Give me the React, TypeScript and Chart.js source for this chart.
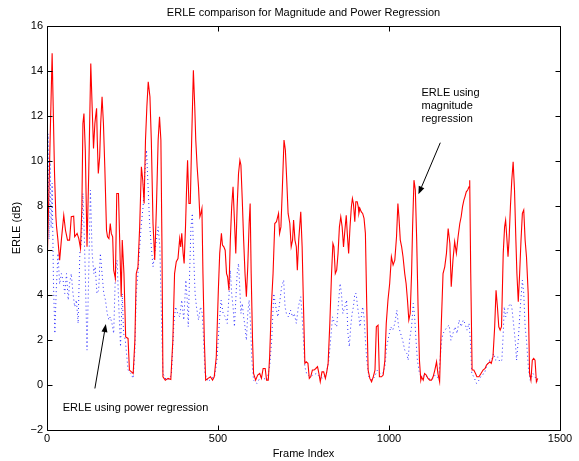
import React, { useEffect, useRef } from "react";
import { Chart, registerables } from "chart.js";

Chart.register(...registerables);

const titleText = "ERLE comparison for Magnitude and Power Regression";
const xLabel = "Frame Index";
const yLabel = "ERLE (dB)";
const xMin = 0;
const xMax = 1500;
const xStep = 500;
const yMin = -2;
const yMax = 16;
const yStep = 2;

// ERLE using magnitude regression (red solid)
const magFrames = [
  1, 15, 22, 26, 28, 32, 37, 42, 49, 54, 60, 66, 71, 78, 81, 88, 93, 98, 102, 105,
  108, 112, 117, 122, 128, 132, 136, 140, 142, 145, 147, 150, 154, 157, 161, 165, 169, 174, 177, 181,
  185, 188, 192, 195, 200, 204, 209, 214, 217, 220, 225, 230, 237, 241, 247, 252, 257, 261, 266, 271,
  276, 280, 284, 288, 292, 296, 301, 305, 310, 315, 320, 325, 329, 333, 336, 339, 346, 354, 362, 368,
  373, 378, 383, 388, 391, 394, 398, 401, 405, 408, 411, 415, 419, 423, 428, 432, 435, 439, 443, 447,
  450, 453, 456, 460, 464, 471, 478, 484, 489, 495, 501, 505, 510, 513, 517, 521, 525, 528, 532, 536,
  540, 544, 548, 552, 556, 560, 564, 567, 571, 575, 579, 583, 587, 591, 594, 597, 601, 604, 610, 616,
  622, 627, 632, 638, 642, 647, 651, 656, 661, 666, 671, 677, 680, 684, 688, 693, 697, 701, 705, 710,
  714, 718, 721, 725, 729, 732, 736, 742, 746, 750, 754, 758, 763, 767, 771, 776, 781, 786, 791, 795,
  799, 804, 809, 814, 818, 822, 827, 832, 836, 839, 843, 847, 851, 855, 859, 863, 867, 871, 875, 878,
  882, 886, 890, 893, 896, 900, 903, 907, 910, 912, 915, 919, 923, 927, 931, 935, 939, 944, 949, 954,
  959, 963, 968, 972, 978, 983, 988, 992, 997, 1002, 1007, 1012, 1017, 1022, 1026, 1029, 1033, 1037, 1041, 1046,
  1050, 1054, 1058, 1062, 1066, 1069, 1073, 1077, 1081, 1085, 1089, 1093, 1095, 1100, 1104, 1109, 1114, 1119, 1124, 1129,
  1134, 1139, 1143, 1148, 1153, 1158, 1163, 1168, 1173, 1178, 1182, 1187, 1192, 1197, 1202, 1207, 1211, 1215, 1219, 1222,
  1226, 1230, 1234, 1236, 1239, 1243, 1248, 1253, 1257, 1263, 1269, 1275, 1281, 1285, 1290, 1295, 1299, 1304, 1309, 1313,
  1317, 1321, 1325, 1329, 1334, 1338, 1341, 1345, 1348, 1351, 1355, 1359, 1363, 1367, 1371, 1374, 1378, 1382, 1386, 1390,
  1394, 1398, 1402, 1407, 1411, 1415, 1419, 1423, 1427, 1431, 1435,
];
const magValues = [
  5.64, 14.78, 9.43, 7.5, 7.05, 6.46, 5.57, 6.46, 7.57, 6.9, 6.46, 6.46, 7.5, 7.53, 6.61, 6.76, 6.53, 6.09, 7.95, 11.66,
  12.1, 10.47, 6.16, 9.43, 14.33, 12.4, 10.54, 11.66, 11.95, 12.33, 10.92, 9.43, 10.17, 11.66, 12.85, 11.66, 9.73, 6.9, 6.61, 6.53,
  7.2, 6.76, 6.61, 5.12, 4.75, 8.54, 8.54, 5.57, 3.94, 6.46, 4.97, 2.15, 2.08, 0.67, 0.59, 0.52, 2.0, 4.97, 5.27, 7.05,
  9.73, 9.13, 8.09, 10.92, 12.4, 13.51, 12.85, 10.92, 7.2, 5.57, 7.95, 10.92, 11.95, 10.92, 6.46, 0.37, 0.22, 0.3, 0.25, 2.0,
  4.97, 5.5, 5.64, 6.53, 6.16, 6.76, 5.87, 5.42, 7.05, 8.69, 10.02, 8.09, 8.09, 10.92, 14.03, 12.4, 10.92, 9.73, 8.84, 7.5,
  7.65, 7.87, 4.97, 2.0, 0.22, 0.3, 0.37, 0.22, 0.37, 1.26, 4.23, 5.87, 6.76, 6.24, 6.16, 6.01, 4.97, 4.83, 4.23, 6.46,
  7.95, 8.84, 7.35, 5.87, 7.95, 9.43, 10.02, 9.8, 8.24, 6.46, 4.97, 3.94, 5.27, 7.2, 8.09, 4.97, 2.0, 0.52, 0.22, 0.45,
  0.52, 0.3, 0.74, 0.74, 0.22, 0.22, 1.26, 3.49, 4.97, 7.2, 7.28, 7.65, 6.76, 7.05, 8.69, 10.92, 10.47, 9.13, 7.65, 7.2,
  6.16, 6.46, 7.35, 6.46, 6.16, 5.12, 6.46, 7.72, 6.16, 3.49, 0.97, 1.04, 0.97, 0.3, 0.37, 0.67, 0.67, 0.74, 0.82, 0.52,
  0.15, 0.59, 0.59, 0.3, 0.59, 0.97, 2.75, 4.97, 6.31, 6.16, 4.97, 5.12, 5.87, 7.05, 7.5, 7.05, 6.16, 6.9, 7.57, 6.76,
  5.87, 7.05, 7.95, 8.32, 8.09, 7.28, 8.17, 8.17, 7.95, 7.65, 7.87, 7.72, 7.65, 7.43, 6.76, 3.49, 0.67, 0.3, 0.15, 0.37,
  0.67, 2.6, 2.67, 0.37, 0.37, 0.45, 1.11, 2.75, 3.79, 4.53, 5.72, 5.35, 5.57, 6.61, 8.09, 7.5, 6.46, 6.16, 5.72, 4.97,
  4.53, 3.79, 2.9, 3.19, 4.97, 7.05, 9.13, 8.69, 6.46, 3.49, 1.11, 0.22, 0.37, 0.22, 0.52, 0.45, 0.3, 0.22, 0.22, 0.37,
  0.67, 1.04, 0.52, 0.15, 2.75, 4.97, 5.27, 5.87, 6.98, 6.31, 4.38, 5.57, 6.39, 5.87, 6.61, 7.2, 7.5, 7.95, 8.24, 8.39,
  8.61, 8.69, 8.84, 9.13, 4.97, 0.67, 0.67, 0.52, 0.37, 0.37, 0.52, 0.67, 0.74, 0.89, 0.97, 1.04, 0.97, 1.26, 2.6, 4.23,
  3.49, 2.6, 2.45, 2.6, 5.87, 7.05, 7.35, 6.46, 5.72, 6.46, 7.95, 9.13, 9.95, 8.69, 6.46, 4.97, 3.71, 4.97, 6.46, 7.65,
  7.8, 6.46, 5.72, 4.08, 0.52, 0.22, 1.11, 1.19, 1.11, 0.15, 0.3,
];

// ERLE using power regression (blue dotted)
const powFrames = [
  0, 3, 6, 9, 12, 15, 19, 23, 27, 32, 37, 42, 47, 52, 57, 62, 66, 71, 76, 81,
  86, 91, 96, 101, 105, 108, 112, 117, 122, 127, 132, 137, 141, 146, 151, 156, 161, 166, 171, 176,
  181, 185, 190, 195, 200, 205, 210, 215, 220, 224, 229, 237, 245, 252, 257, 261, 266, 271, 276, 281,
  286, 291, 296, 300, 305, 310, 315, 320, 325, 330, 335, 339, 349, 359, 364, 371, 376, 382, 388, 394,
  400, 406, 410, 413, 417, 421, 425, 429, 433, 437, 443, 449, 454, 458, 462, 471, 481, 490, 497, 503,
  509, 515, 521, 527, 532, 536, 540, 544, 548, 552, 556, 560, 564, 567, 571, 575, 579, 583, 587, 591,
  595, 599, 604, 614, 624, 634, 643, 651, 657, 663, 669, 675, 680, 686, 692, 696, 700, 706, 712, 718,
  723, 729, 735, 742, 746, 750, 754, 759, 768, 778, 788, 797, 807, 817, 824, 830, 835, 841, 847, 853,
  857, 861, 865, 871, 876, 880, 884, 888, 892, 896, 900, 904, 908, 911, 915, 919, 923, 927, 931, 935,
  941, 950, 958, 966, 974, 982, 988, 993, 999, 1005, 1011, 1017, 1023, 1028, 1034, 1040, 1046, 1052, 1056, 1060,
  1066, 1071, 1075, 1079, 1083, 1089, 1097, 1105, 1115, 1125, 1135, 1145, 1150, 1154, 1158, 1164, 1170, 1176, 1181, 1187,
  1193, 1199, 1205, 1211, 1217, 1222, 1228, 1234, 1238, 1242, 1248, 1256, 1263, 1271, 1279, 1285, 1293, 1300, 1306, 1312,
  1318, 1324, 1330, 1334, 1337, 1341, 1345, 1349, 1355, 1359, 1363, 1369, 1373, 1378, 1384, 1390, 1394, 1398, 1402, 1408,
  1413, 1421, 1427, 1433,
];
const powValues = [
  5.5, 11.2, 6.5, 10.0, 7.0, 9.0, 4.5, 2.3, 4.2, 5.87, 4.5, 4.97, 4.68, 4.08, 4.97, 3.79, 4.53, 4.97, 4.08, 3.49,
  3.79, 2.75, 5.87, 6.46, 8.54, 7.2, 4.97, 1.56, 4.97, 8.69, 5.87, 4.97, 5.27, 4.08, 4.23, 5.87, 4.97, 4.08, 3.79, 3.19,
  2.9, 3.04, 2.75, 2.3, 4.97, 5.57, 3.49, 1.71, 4.08, 2.3, 2.0, 0.67, 0.52, 0.3, 1.56, 4.08, 4.97, 6.16, 7.2, 7.95,
  9.43, 10.47, 8.69, 7.2, 6.16, 5.27, 5.87, 6.46, 7.05, 6.16, 2.75, 0.52, 0.22, 0.3, 0.52, 2.75, 3.49, 3.19, 3.04, 3.79,
  2.9, 4.68, 3.79, 2.6, 4.97, 7.05, 7.65, 5.72, 4.08, 3.49, 2.9, 3.49, 3.19, 2.0, 0.52, 0.15, 0.3, 0.37, 1.11, 2.6,
  3.79, 3.19, 3.04, 2.75, 3.94, 5.12, 4.08, 3.49, 2.6, 3.79, 4.97, 5.42, 4.23, 3.19, 3.64, 3.04, 2.6, 2.0, 3.19, 3.79,
  2.75, 1.11, 0.22, 0.07, 0.37, 0.3, 0.22, 0.82, 2.0, 4.08, 3.49, 3.04, 3.64, 4.38, 4.68, 3.49, 3.19, 3.04, 3.34, 3.04,
  3.19, 2.75, 3.49, 3.94, 3.04, 2.0, 0.82, 0.52, 0.37, 0.45, 0.52, 0.37, 0.3, 0.52, 1.11, 2.15, 3.04, 2.75, 2.6, 3.79,
  4.53, 4.08, 3.19, 3.49, 3.79, 2.3, 1.71, 2.6, 3.19, 3.49, 4.08, 4.08, 3.49, 3.19, 2.6, 3.04, 3.49, 3.04, 2.0, 1.11,
  0.37, 0.22, 0.37, 0.67, 0.52, 0.52, 0.82, 1.71, 2.15, 2.6, 2.45, 2.75, 3.34, 2.6, 2.3, 2.0, 1.56, 1.41, 1.11, 2.0,
  2.6, 3.64, 3.04, 2.0, 1.11, 0.52, 0.37, 0.45, 0.3, 0.22, 0.45, 0.3, 1.26, 2.0, 2.3, 2.45, 2.6, 2.67, 2.0, 2.3,
  2.6, 2.3, 2.9, 2.6, 2.9, 2.75, 2.45, 2.75, 2.0, 0.52, 0.37, 0.07, 0.22, 0.45, 0.52, 0.82, 1.11, 1.11, 1.41, 1.11,
  1.26, 1.04, 1.11, 2.3, 3.49, 3.04, 3.19, 3.49, 3.64, 3.49, 2.9, 2.0, 1.11, 2.0, 3.49, 4.68, 4.08, 2.6, 2.0, 0.67,
  0.22, 0.52, 0.37, 0.15,
];

// Annotations (in data units)
const powerNoteText = "ERLE using power regression";
const powerNoteAt = [46, -1.0];
const powerArrowFrom = [140, -0.15];
const powerArrowTo = [172, 2.72];
const magNoteLines = ["ERLE using", "magnitude", "regression"];
const magNoteX = 1095;
const magNoteYs = [13.02, 12.43, 11.85];
const magArrowFrom = [1150, 10.8];
const magArrowTo = [1086, 8.5];

const FONT = "'Liberation Sans', Arial, Helvetica, sans-serif";

const toPoints = (xs: number[], ys: number[]) => xs.map((x, i) => ({ x, y: ys[i] }));

const range = (a: number, b: number, s: number) => {
  const out: number[] = [];
  for (let v = a; v <= b + 1e-9; v += s) out.push(v);
  return out;
};

const fmtTick = (v: any) => {
  const n = Number(v);
  return n < 0 ? "\u2212" + String(Math.abs(n)) : String(n);
};

const frameAndNotes = {
  id: "frameAndNotes",
  afterDraw(chart: any) {
    const { ctx, chartArea } = chart;
    const xs = chart.scales.x;
    const ys = chart.scales.y;
    const L = Math.round(chartArea.left) + 0.5;
    const R = Math.round(chartArea.right) + 0.5;
    const T = Math.round(chartArea.top) + 0.5;
    const B = Math.round(chartArea.bottom) + 0.5;
    ctx.save();
    ctx.strokeStyle = "#000";
    ctx.lineWidth = 1;
    ctx.beginPath();
    ctx.rect(L, T, R - L, B - T);
    ctx.stroke();
    const tl = 5;
    ctx.beginPath();
    for (const v of range(xMin, xMax, xStep)) {
      const px = Math.round(xs.getPixelForValue(v)) + 0.5;
      ctx.moveTo(px, B);
      ctx.lineTo(px, B - tl);
      ctx.moveTo(px, T);
      ctx.lineTo(px, T + tl);
    }
    for (const v of range(yMin, yMax, yStep)) {
      const py = Math.round(ys.getPixelForValue(v)) + 0.5;
      ctx.moveTo(L, py);
      ctx.lineTo(L + tl, py);
      ctx.moveTo(R, py);
      ctx.lineTo(R - tl, py);
    }
    ctx.stroke();

    // annotation texts
    ctx.fillStyle = "#000";
    ctx.font = `11px ${FONT}`;
    ctx.textBaseline = "middle";
    ctx.textAlign = "left";
    ctx.fillText(powerNoteText, xs.getPixelForValue(powerNoteAt[0]), ys.getPixelForValue(powerNoteAt[1]));
    magNoteLines.forEach((t, i) => {
      ctx.fillText(t, xs.getPixelForValue(magNoteX), ys.getPixelForValue(magNoteYs[i]));
    });

    const arrow = (from: number[], to: number[]) => {
      const x1 = xs.getPixelForValue(from[0]);
      const y1 = ys.getPixelForValue(from[1]);
      const x2 = xs.getPixelForValue(to[0]);
      const y2 = ys.getPixelForValue(to[1]);
      const ang = Math.atan2(y2 - y1, x2 - x1);
      const hl = 8;
      const hw = 3;
      const bx = x2 - hl * Math.cos(ang);
      const by = y2 - hl * Math.sin(ang);
      ctx.beginPath();
      ctx.moveTo(x1, y1);
      ctx.lineTo(bx, by);
      ctx.stroke();
      ctx.beginPath();
      ctx.moveTo(x2, y2);
      ctx.lineTo(bx + hw * Math.sin(ang), by - hw * Math.cos(ang));
      ctx.lineTo(bx - hw * Math.sin(ang), by + hw * Math.cos(ang));
      ctx.closePath();
      ctx.fill();
    };
    arrow(powerArrowFrom, powerArrowTo);
    arrow(magArrowFrom, magArrowTo);
    ctx.restore();
  },
};

export default function App() {
  const ref = useRef<HTMLCanvasElement | null>(null);
  useEffect(() => {
    if (!ref.current) return;
    const chart = new Chart(ref.current, {
      type: "line",
      data: {
        datasets: [
          {
            label: "magnitude",
            data: toPoints(magFrames, magValues),
            borderColor: "#ff0000",
            borderWidth: 1.1,
            pointRadius: 0,
            tension: 0,
            fill: false,
          },
          {
            label: "power",
            data: toPoints(powFrames, powValues),
            borderColor: "#2b2bff",
            borderWidth: 1,
            borderDash: [1, 3],
            pointRadius: 0,
            tension: 0,
            fill: false,
          },
        ],
      },
      options: {
        animation: false,
        responsive: false,
        devicePixelRatio: 1,
        layout: { padding: { left: 0, right: 19, top: 0, bottom: 0 } },
        plugins: {
          legend: { display: false },
          tooltip: { enabled: false },
          title: {
            display: true,
            text: titleText,
            fullSize: false,
            color: "#000",
            font: { family: FONT, size: 11, weight: "normal" },
            padding: { top: 6.4, bottom: 6.4 },
          },
        },
        scales: {
          x: {
            type: "linear",
            min: xMin,
            max: xMax,
            grid: { display: false, drawTicks: false },
            border: { display: false },
            ticks: {
              stepSize: xStep,
              color: "#000",
              font: { family: FONT, size: 11 },
              padding: 2,
              maxRotation: 0,
              callback: fmtTick,
            },
            title: {
              display: true,
              text: xLabel,
              color: "#000",
              font: { family: FONT, size: 11 },
              padding: { top: 0, bottom: 0 },
            },
            afterFit: (s: any) => {
              s.height = 31;
            },
          },
          y: {
            type: "linear",
            min: yMin,
            max: yMax,
            grid: { display: false, drawTicks: false },
            border: { display: false },
            ticks: {
              stepSize: yStep,
              color: "#000",
              font: { family: FONT, size: 11 },
              padding: 4,
              callback: fmtTick,
            },
            title: {
              display: true,
              text: yLabel,
              color: "#000",
              font: { family: FONT, size: 11 },
              padding: { top: 10.4, bottom: 0 },
            },
            afterFit: (s: any) => {
              s.width = 47;
            },
          },
        },
      },
      plugins: [frameAndNotes],
    });
    return () => chart.destroy();
  }, []);
  return (
    <div style={{ position: "absolute", left: 0, top: 0, width: 579, height: 461, background: "#fff" }}>
      <canvas ref={ref} width={579} height={461} />
    </div>
  );
}
